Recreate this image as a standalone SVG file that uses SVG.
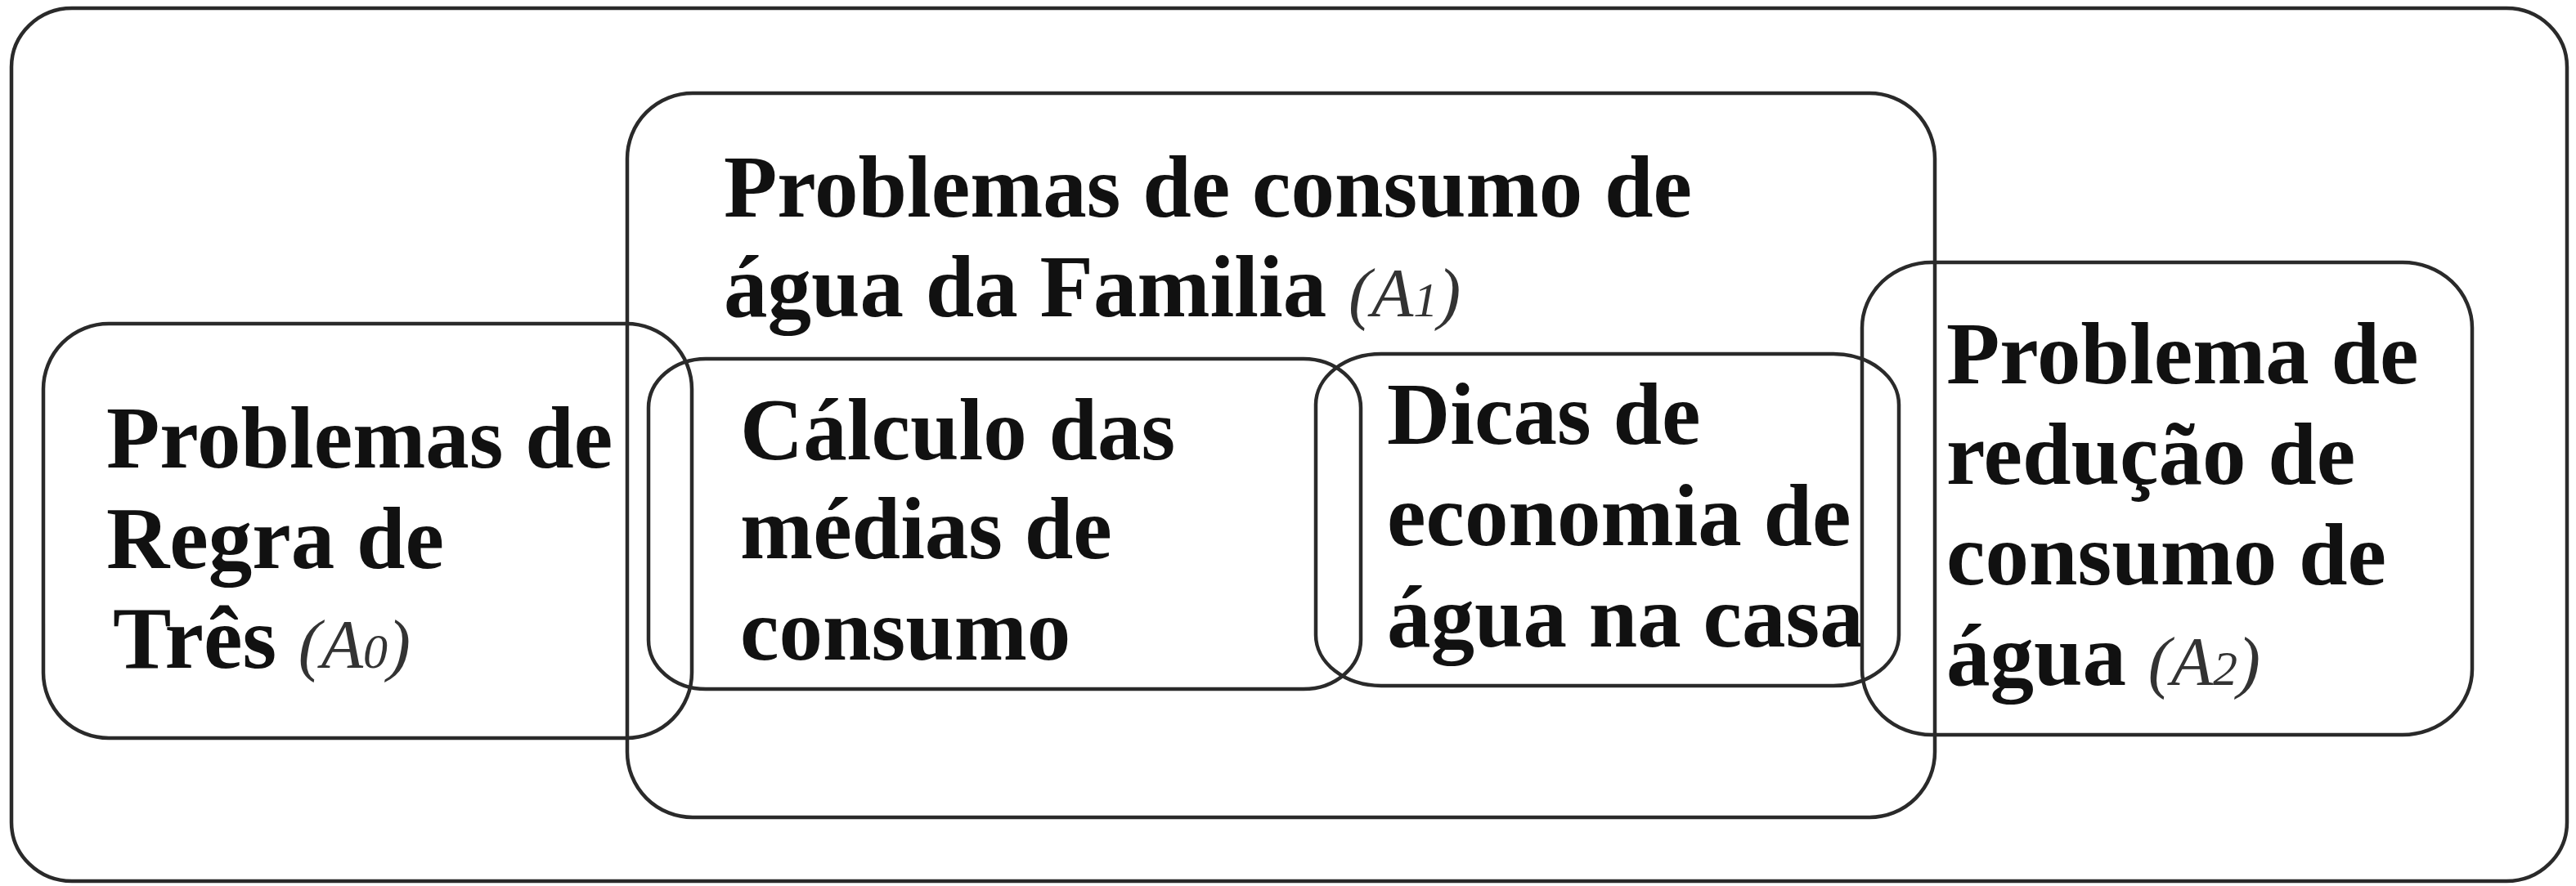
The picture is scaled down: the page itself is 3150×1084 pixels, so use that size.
<svg xmlns="http://www.w3.org/2000/svg" width="3150" height="1084" viewBox="0 0 3150 1084">
<style>
  .box { fill: none; stroke: #2a2a2a; stroke-width: 4.5; }
  .t { font-family: "Liberation Serif", "Times New Roman", serif; font-weight: bold; font-size: 107px; fill: #111; }
  .it { font-family: "Liberation Serif", "Times New Roman", serif; font-weight: normal; font-style: italic; font-size: 84px; fill: #333; }
  .sub { font-size: 60px; }
</style>
<rect width="3150" height="1084" fill="#ffffff"/>
<g id="connectors"></g>
<g id="universe">
  <rect class="box" x="14" y="10" width="3125" height="1068" rx="74" ry="72"/>
</g>
<g id="A1">
  <rect class="box" x="767" y="114" width="1599" height="886" rx="80" ry="80"/>
  <text class="t" x="885" y="265">Problemas de consumo de</text>
  <text class="t" x="885" y="387">água da Familia <tspan class="it">(A<tspan class="sub">1</tspan>)</tspan></text>
</g>
<g id="A0">
  <rect class="box" x="53" y="396" width="793" height="507" rx="80" ry="80"/>
  <text class="t" x="130" y="572">Problemas de</text>
  <text class="t" x="130" y="695">Regra de</text>
  <text class="t" x="138" y="817">Três <tspan class="it">(A<tspan class="sub">0</tspan>)</tspan></text>
</g>
<g id="calculo">
  <rect class="box" x="793" y="439" width="871" height="404" rx="70" ry="60"/>
  <text class="t" x="905" y="562">Cálculo das</text>
  <text class="t" x="905" y="683">médias de</text>
  <text class="t" x="905" y="807">consumo</text>
</g>
<g id="dicas">
  <rect class="box" x="1609" y="433" width="713" height="406" rx="80" ry="62"/>
  <text class="t" x="1696" y="543">Dicas de</text>
  <text class="t" x="1696" y="667">economia de</text>
  <text class="t" x="1696" y="791">água na casa</text>
</g>
<g id="A2">
  <rect class="box" x="2277" y="321" width="746" height="578" rx="85" ry="80"/>
  <text class="t" x="2380" y="469">Problema de</text>
  <text class="t" x="2380" y="592">redução de</text>
  <text class="t" x="2380" y="715">consumo de</text>
  <text class="t" x="2380" y="838">água <tspan class="it">(A<tspan class="sub">2</tspan>)</tspan></text>
</g>
</svg>
